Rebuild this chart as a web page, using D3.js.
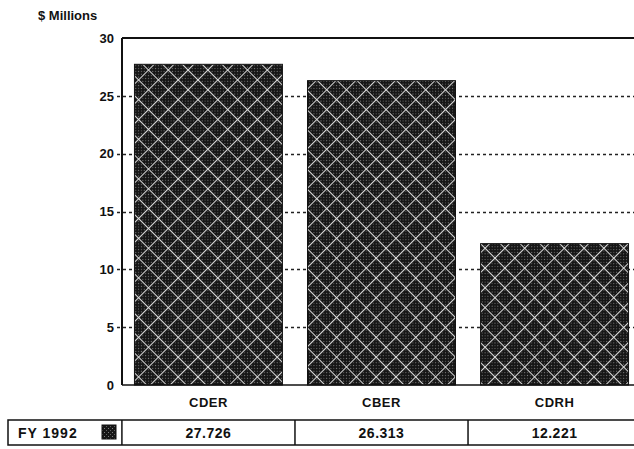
<!DOCTYPE html>
<html lang="en">
<head>
<meta charset="utf-8">
<script src="https://d3js.org/d3.v7.min.js"></script>
<title>FY 1992 $ Millions</title>
<style>
  body { margin: 0; background: #fff; }
  text { font-family: "Liberation Sans", Arial, sans-serif; font-weight: bold; fill: #111; }
</style>
</head>
<body>
<div id="chart"></div>
<script>
// data
var categories = ["CDER", "CBER", "CDRH"];
var values = [27.726, 26.313, 12.221];
var valueLabels = ["27.726", "26.313", "12.221"];
var yTicks = [0, 5, 10, 15, 20, 25, 30];
var seriesName = "FY 1992";

var W = 634, H = 449;
var margin = {top: 38, left: 122, bottom: 385};
var step = 173;

var svg = d3.select("#chart").append("svg")
    .attr("width", W).attr("height", H);

// hatch pattern: dark dithered fill with white diagonal lattice
var defs = svg.append("defs");
var dots = defs.append("pattern")
    .attr("id", "dots").attr("patternUnits", "userSpaceOnUse")
    .attr("width", 4).attr("height", 4);
dots.append("rect").attr("width", 4).attr("height", 4).attr("fill", "#161616");
dots.append("rect").attr("x", 0).attr("y", 0).attr("width", 1).attr("height", 1).attr("fill", "#808080");
dots.append("rect").attr("x", 2).attr("y", 2).attr("width", 1).attr("height", 1).attr("fill", "#606060");

var hatch = defs.append("pattern")
    .attr("id", "hatch").attr("patternUnits", "userSpaceOnUse")
    .attr("width", 14).attr("height", 14)
    .attr("patternTransform", "rotate(45)");
hatch.append("rect").attr("width", 14).attr("height", 14).attr("fill", "url(#dots)");
hatch.append("line").attr("x1", 0).attr("y1", 0.5).attr("x2", 14).attr("y2", 0.5)
    .attr("stroke", "#dcdcdc").attr("stroke-width", 1.1);
hatch.append("line").attr("x1", 0.5).attr("y1", 0).attr("x2", 0.5).attr("y2", 14)
    .attr("stroke", "#dcdcdc").attr("stroke-width", 1.1);

var x = d3.scaleBand()
    .domain(categories)
    .range([margin.left, margin.left + step * categories.length])
    .paddingInner(0.145).paddingOuter(0.072);

var y = d3.scaleLinear().domain([0, 30]).range([margin.bottom, margin.top]);

// dotted gridlines
svg.append("g").selectAll("line")
    .data(yTicks.filter(function(d){ return d > 0 && d < 30; }))
    .join("line")
    .attr("x1", margin.left - 5).attr("x2", W)
    .attr("y1", function(d){ return Math.round(y(d)) + 0.5; })
    .attr("y2", function(d){ return Math.round(y(d)) + 0.5; })
    .attr("stroke", "#222").attr("stroke-width", 1.3)
    .attr("stroke-dasharray", "3,3");

// bars
svg.append("g").selectAll("rect")
    .data(values)
    .join("rect")
    .attr("x", function(d, i){ return x(categories[i]); })
    .attr("y", function(d){ return y(d); })
    .attr("width", x.bandwidth())
    .attr("height", function(d){ return y(0) - y(d); })
    .attr("fill", "url(#hatch)")
    .attr("stroke", "#111");

// y axis
var yAxis = svg.append("g")
    .attr("transform", "translate(" + margin.left + ",0)")
    .call(d3.axisLeft(y).tickValues(yTicks).tickSize(0).tickPadding(8));
yAxis.select(".domain").remove();
yAxis.selectAll("text").style("font-size", "13px").style("font-family", "Liberation Sans, Arial").style("font-weight", "bold");

// frame: left, top, bottom
svg.append("line").attr("x1", margin.left).attr("x2", margin.left)
    .attr("y1", margin.top).attr("y2", margin.bottom)
    .attr("stroke", "#111").attr("stroke-width", 2);
svg.append("line").attr("x1", margin.left).attr("x2", W)
    .attr("y1", margin.top).attr("y2", margin.top)
    .attr("stroke", "#111").attr("stroke-width", 2);
svg.append("line").attr("x1", margin.left).attr("x2", W)
    .attr("y1", margin.bottom).attr("y2", margin.bottom)
    .attr("stroke", "#111").attr("stroke-width", 1.5);

// category labels
svg.append("g").selectAll("text")
    .data(categories)
    .join("text")
    .attr("x", function(d){ return x(d) + x.bandwidth() / 2; })
    .attr("y", 407)
    .attr("text-anchor", "middle")
    .style("font-size", "13px")
    .style("letter-spacing", "0.5px")
    .text(function(d){ return d; });

// axis title
svg.append("text").attr("x", 38).attr("y", 20)
    .style("font-size", "13px").text("$ Millions");

// data table
var tTop = 420, tBot = 445;
var table = svg.append("g");
table.append("rect").attr("x", 8).attr("y", tTop)
    .attr("width", W).attr("height", tBot - tTop)
    .attr("fill", "none").attr("stroke", "#111").attr("stroke-width", 1.5);
table.selectAll("line.div")
    .data(categories)
    .join("line")
    .attr("class", "div")
    .attr("x1", function(d){ return x(d) - x.step() * x.paddingInner() / 2; })
    .attr("x2", function(d){ return x(d) - x.step() * x.paddingInner() / 2; })
    .attr("y1", tTop).attr("y2", tBot)
    .attr("stroke", "#111").attr("stroke-width", 1.5);
table.selectAll("text.val")
    .data(valueLabels)
    .join("text")
    .attr("class", "val")
    .attr("x", function(d, i){ return x(categories[i]) + x.bandwidth() / 2; })
    .attr("y", 438)
    .attr("text-anchor", "middle")
    .style("font-size", "14px")
    .style("letter-spacing", "0.5px")
    .text(function(d){ return d; });
table.append("text").attr("x", 18).attr("y", 438)
    .style("font-size", "14px").style("letter-spacing", "1px").text(seriesName);
table.append("rect").attr("x", 102).attr("y", 425)
    .attr("width", 14).attr("height", 14)
    .attr("fill", "url(#dots)").attr("stroke", "#111");
</script>
</body>
</html>
